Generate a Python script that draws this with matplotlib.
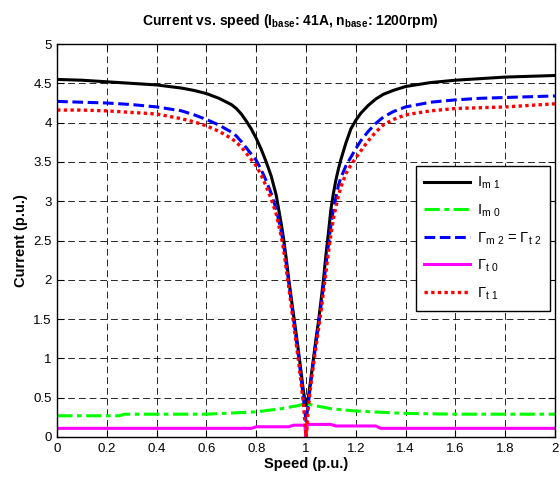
import matplotlib
matplotlib.use('Agg')
import matplotlib.pyplot as plt

plt.rcParams['font.family'] = ['Liberation Sans', 'DejaVu Sans']
plt.rcParams['mathtext.fontset'] = 'custom'
plt.rcParams['mathtext.rm'] = 'Liberation Sans'
plt.rcParams['mathtext.bf'] = 'Liberation Sans:bold'

# speed axis shared by I_m1, Gamma_m2 and Gamma_t1
speed = [0, 0.1, 0.2, 0.3, 0.4, 0.5, 0.55, 0.6, 0.65, 0.7, 0.72, 0.74, 0.76, 0.78,
         0.8, 0.82, 0.84, 0.86, 0.88, 0.9, 0.91, 0.92, 0.93, 0.94, 0.95, 0.96,
         0.97, 0.98, 0.99, 1.0, 1.01, 1.02, 1.03, 1.04, 1.05, 1.06, 1.07, 1.08,
         1.09, 1.1, 1.11, 1.12, 1.13, 1.14, 1.16, 1.18, 1.2, 1.22, 1.25, 1.28,
         1.31, 1.35, 1.4, 1.5, 1.6, 1.7, 1.8, 1.9, 2.0]
i_m1 = [4.55, 4.54, 4.52, 4.50, 4.48, 4.44, 4.41, 4.37, 4.31, 4.23, 4.18, 4.11, 4.02, 3.92,
        3.80, 3.66, 3.50, 3.32, 3.08, 2.72, 2.52, 2.28, 2.02, 1.78, 1.55, 1.32,
        1.08, 0.83, 0.57, 0.40, 0.52, 0.76, 1.0, 1.25, 1.47, 1.73, 2.0, 2.32,
        2.6, 2.9, 3.1, 3.27, 3.41, 3.53, 3.74, 3.92, 4.03, 4.12, 4.22, 4.30,
        4.36, 4.41, 4.46, 4.51, 4.54, 4.56, 4.58, 4.59, 4.60]
g_m2 = [4.27, 4.26, 4.25, 4.23, 4.20, 4.15, 4.10, 4.04, 3.97, 3.88, 3.83, 3.76, 3.68, 3.60,
        3.52, 3.40, 3.26, 3.10, 2.90, 2.62, 2.45, 2.22, 1.98, 1.74, 1.50, 1.26,
        1.02, 0.76, 0.48, 0.2, 0.45, 0.72, 0.96, 1.2, 1.42, 1.66, 1.92, 2.2,
        2.45, 2.7, 2.9, 3.05, 3.2, 3.3, 3.45, 3.56, 3.67, 3.77, 3.89, 3.99,
        4.07, 4.14, 4.20, 4.26, 4.29, 4.31, 4.32, 4.33, 4.34]
g_t1 = [4.16, 4.16, 4.15, 4.13, 4.11, 4.05, 4.01, 3.96, 3.89, 3.80, 3.75, 3.69, 3.61, 3.53,
        3.45, 3.33, 3.19, 3.03, 2.84, 2.56, 2.38, 2.15, 1.92, 1.68, 1.44, 1.2,
        0.96, 0.7, 0.4, 0.0, 0.4, 0.68, 0.92, 1.15, 1.37, 1.6, 1.85, 2.1,
        2.35, 2.58, 2.78, 2.93, 3.07, 3.18, 3.35, 3.46, 3.55, 3.64, 3.77, 3.88,
        3.97, 4.04, 4.10, 4.15, 4.18, 4.19, 4.20, 4.22, 4.24]

speed_m0 = [0, 0.25, 0.27, 0.6, 0.8, 0.9, 0.97, 1.0, 1.02, 1.05, 1.1, 1.2, 1.4, 1.6, 2.0]
i_m0 = [0.27, 0.27, 0.29, 0.29, 0.32, 0.36, 0.40, 0.43, 0.41, 0.39, 0.36, 0.33, 0.30, 0.29, 0.29]

speed_t0 = [0, 0.78, 0.8, 0.93, 0.95, 0.995, 1.0, 1.005, 1.1, 1.12, 1.28, 1.3, 2.0]
g_t0 = [0.11, 0.11, 0.13, 0.13, 0.15, 0.15, 0.0, 0.16, 0.16, 0.14, 0.14, 0.11, 0.11]

fig = plt.figure(figsize=(5.6, 4.78), dpi=100)
ax = fig.add_axes([0.102, 0.0858, 0.889, 0.822])

ax.plot(speed, i_m1, color='k', lw=2.2, label=r'I$_{\mathregular{m\ 1}}$')
ax.plot(speed_m0, i_m0, color='#00ff00', lw=2.2, ls=(0, (5, 1.5, 1.5, 1.5)), label=r'I$_{\mathregular{m\ 0}}$')
ax.plot(speed, g_m2, color='#0000ff', lw=2.2, ls=(0, (3.5, 1.5)), label=r'Γ$_{\mathregular{m\ 2}}$ = Γ$_{\mathregular{t\ 2}}$')
ax.plot(speed_t0, g_t0, color='#ff00ff', lw=2.2, label=r'Γ$_{\mathregular{t\ 0}}$')
ax.plot(speed, g_t1, color='#ff0000', lw=2.4, ls=(0, (1, 1)), label=r'Γ$_{\mathregular{t\ 1}}$')

ax.set_xlim(0, 2)
ax.set_ylim(0, 5)
ax.set_xticks([0, 0.2, 0.4, 0.6, 0.8, 1, 1.2, 1.4, 1.6, 1.8, 2])
ax.set_xticklabels(['0', '0.2', '0.4', '0.6', '0.8', '1', '1.2', '1.4', '1.6', '1.8', '2'])
ax.set_yticks([0, 0.5, 1, 1.5, 2, 2.5, 3, 3.5, 4, 4.5, 5])
ax.set_yticklabels(['0', '0.5', '1', '1.5', '2', '2.5', '3', '3.5', '4', '4.5', '5'])
ax.tick_params(direction='in', top=True, right=True, length=5, width=0.8, labelsize=9.5, pad=4)
ax.grid(True, color='k', lw=0.7, ls=(0, (7, 4)), alpha=0.85)
for sp in ax.spines.values():
    sp.set_linewidth(1.0)

ax.set_title(r'Current vs. speed (I$_{\mathbf{base}}$: 41A, n$_{\mathbf{base}}$: 1200rpm)',
             fontsize=10, fontweight='bold', pad=14, x=0.468)
ax.set_xlabel('Speed (p.u.)', fontsize=10.5, fontweight='bold', labelpad=2)
ax.set_ylabel('Current (p.u.)', fontsize=10.5, fontweight='bold', labelpad=4)

leg = ax.legend(loc='upper left', bbox_to_anchor=(0.72, 0.69), borderaxespad=0,
                fontsize=10.5, fancybox=False, framealpha=1, edgecolor='k',
                handlelength=3.1, labelspacing=0.75, borderpad=0.6, handletextpad=0.5)
leg.get_frame().set_linewidth(1.0)

fig.savefig('out.png', dpi=100)
